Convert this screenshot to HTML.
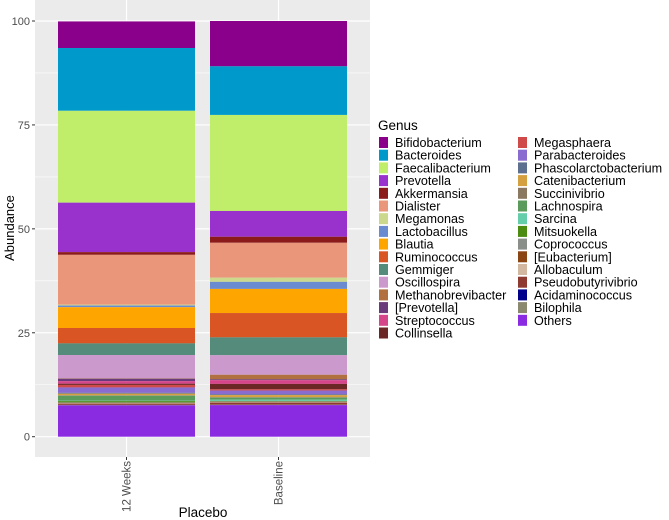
<!DOCTYPE html>
<html><head><meta charset="utf-8">
<style>
html,body{margin:0;padding:0;background:#fff;}
svg{display:block;font-family:"Liberation Sans",Arial,sans-serif;}
</style></head>
<body>
<svg id="chart" width="669" height="520" viewBox="0 0 669 520" xmlns="http://www.w3.org/2000/svg">
<rect x="0" y="0" width="669" height="520" fill="#fff"/>
<rect x="35" y="0" width="335" height="457" fill="#EBEBEB"/>
<g id="grid"></g>
<g id="bars"></g>
<g id="yaxis"></g>
<g id="xaxis"></g>
<text x="14" y="228" transform="rotate(-90 14 228)" text-anchor="middle" font-size="13" fill="#000">Abundance</text>
<text x="203" y="517" text-anchor="middle" font-size="13.5" fill="#000">Placebo</text>
<g id="legend">
<text x="378" y="130" font-size="13.5" fill="#000">Genus</text>
</g>
</svg>
<script>
const categories = ["12 Weeks", "Baseline"];
const genera = ["Bifidobacterium","Bacteroides","Faecalibacterium","Prevotella","Akkermansia","Dialister","Megamonas","Lactobacillus","Blautia","Ruminococcus","Gemmiger","Oscillospira","Methanobrevibacter","[Prevotella]","Streptococcus","Collinsella","Megasphaera","Parabacteroides","Phascolarctobacterium","Catenibacterium","Succinivibrio","Lachnospira","Sarcina","Mitsuokella","Coprococcus","[Eubacterium]","Allobaculum","Pseudobutyrivibrio","Acidaminococcus","Bilophila","Others"];
const colors = ["#8B008B","#0099CC","#C0EE6A","#9932CC","#8B1A1A","#E9967A","#CCD98C","#6A8BCF","#FFA500","#D95624","#548B7A","#CC99CC","#B07040","#6B3A7A","#D6448A","#6B2626","#D04A4A","#8A6BD0","#5E7090","#D4A040","#8B7860","#5A9A5A","#66CDAA","#4A8B10","#8A8F8A","#8B4513","#D2B8A0","#8E3A30","#00008B","#8B8870","#8A2BE2"];
const weeks12 = [6.4,15.1,22.1,11.9,0.65,12.0,0.2,0.4,5.0,3.7,2.8,5.6,0.1,0.6,0.6,0.3,0.6,1.3,0.2,0.4,0.1,1.2,0.1,0.3,0.1,0.1,0.1,0.3,0,0.1,7.55];
const baseline = [10.9,11.7,23.1,6.2,1.45,8.4,1.0,1.7,5.8,5.85,4.3,4.7,1.1,0.2,0.9,1.3,0.3,0.9,0.2,0.5,0.1,0.5,0.3,0.1,0.1,0.1,0.1,0.5,0,0.1,7.6];
const yTicks = [0,25,50,75,100];
const series = [weeks12, baseline];

const NS="http://www.w3.org/2000/svg";
function mk(tag, attrs, parent){const e=document.createElementNS(NS,tag);for(const k in attrs)e.setAttribute(k,attrs[k]);parent.appendChild(e);return e;}
const y = v => 436.7 - v*4.157;
const step = 152, x0 = 126.5;
const xc = i => x0 + i*step;
const bw = 137;

const grid=document.getElementById('grid');
for(let i=0;i<yTicks.length-1;i++){
  const m=(yTicks[i]+yTicks[i+1])/2;
  const l=mk('line',{x1:35,x2:370,y1:y(m),y2:y(m),stroke:'#fff','stroke-width':0.6},grid);
  
  
}
yTicks.forEach(t=>{
  const l=mk('line',{x1:35,x2:370,y1:y(t),y2:y(t),stroke:'#fff','stroke-width':1.2},grid);
  
  
});
categories.forEach((c,i)=>{
  const l=mk('line',{x1:xc(i),x2:xc(i),y1:0,y2:457,stroke:'#fff','stroke-width':1.2},grid);
  
  
});

const bars=document.getElementById('bars');
series.forEach((vals,i)=>{
  let top=0;
  for(let k=0;k<vals.length;k++) top+=vals[k];
  let cum=top;
  vals.forEach((v,k)=>{
    const r=mk('rect',{x:xc(i)-bw/2,y:y(cum),width:bw,height:Math.max(0,v*4.157),fill:colors[k]},bars);
    
    
    cum-=v;
  });
});

const ya=document.getElementById('yaxis');
yTicks.forEach(t=>{
  const tk=mk('line',{x1:32,x2:35,y1:y(t),y2:y(t),stroke:'#333','stroke-width':1},ya);
  
  
  const tx=mk('text',{x:30,y:y(t)+4,'text-anchor':'end','font-size':11,fill:'#4D4D4D'},ya);
  tx.textContent=t;
  
  
});
const xa=document.getElementById('xaxis');
categories.forEach((c,i)=>{
  const tk=mk('line',{x1:xc(i),x2:xc(i),y1:457,y2:460,stroke:'#333','stroke-width':1},xa);
  
  
  const tx=mk('text',{x:xc(i)+4,y:461,'text-anchor':'end','font-size':11.5,fill:'#4D4D4D',transform:`rotate(-90 ${xc(i)+4} 461)`},xa);
  tx.textContent=c;
  
  
});

const lg=document.getElementById('legend');
genera.forEach((g,k)=>{
  const col=k<16?0:1, row=k<16?k:k-16;
  const kx=col?518:379, ky=137+row*12.7;
  const r=mk('rect',{x:kx,y:ky,width:9,height:11,fill:colors[k]},lg);
  
  
  const t=mk('text',{x:kx+16,y:ky+10,'font-size':12.6,fill:'#000'},lg);
  t.textContent=g;
  
  
});
</script>
</body></html>
